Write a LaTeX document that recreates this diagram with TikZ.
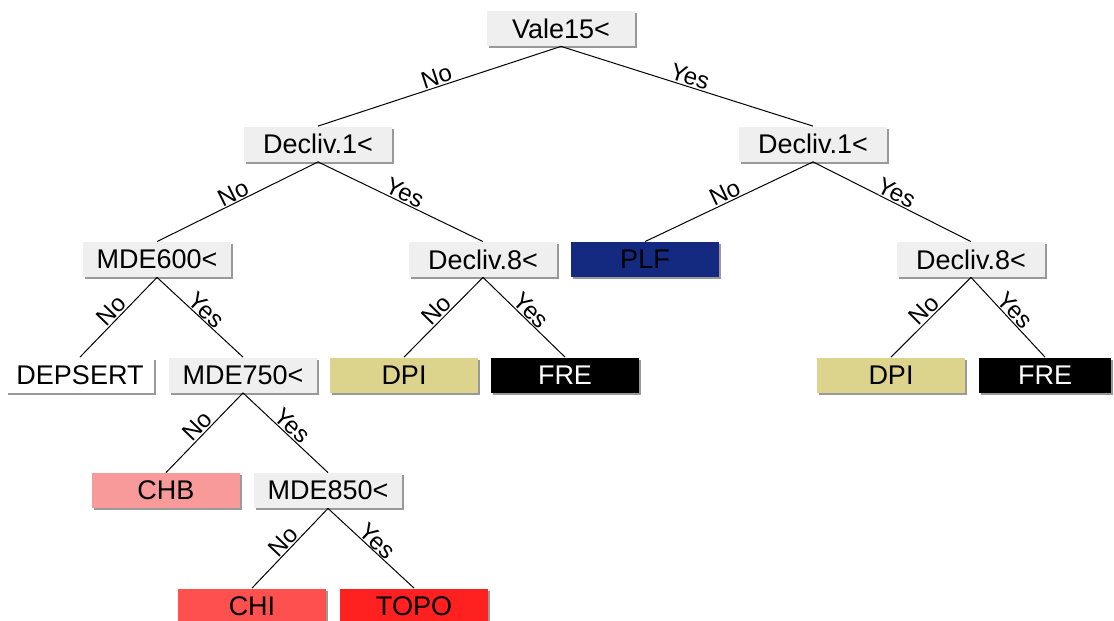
\documentclass[tikz,border=0pt]{standalone}
\usepackage{fontspec}
\setmainfont{Liberation Sans}
\usepackage{tikz}
\usetikzlibrary{shadows, positioning}
\definecolor{splitgray}{HTML}{EFEFEF}
\definecolor{dpicol}{HTML}{DCD48C}
\definecolor{plfcol}{HTML}{132A80}
\definecolor{chbcol}{HTML}{F99A9A}
\definecolor{chicol}{HTML}{FF5050}
\definecolor{topocol}{HTML}{FF2020}
\tikzset{
	box/.style={
		rectangle, 
		minimum width=74pt, 
		minimum height=17.5pt, 
		inner sep=0pt,
		text centered, 
		draw=none, 
		drop shadow={shadow xshift=1pt, shadow yshift=-1pt, fill=black!40, opacity=1},
		font=\fontsize{13.5}{15}\selectfont
	},
	split/.style={box, fill=splitgray},
	leaf/.style={box, fill=#1},
	edge/.style={line width=0.5pt, black},
	answer/.style={sloped, above, midway, inner sep=0.5pt, font=\fontsize{12}{13}\selectfont}
}

\begin{document}
\begin{tikzpicture}[node distance=57.75pt]
				\useasboundingbox (0,0) rectangle (557pt,-310.5pt);
				\node (root) [split] at (280.5pt,-14.25pt) {Vale15<};
				
				\node (declivL) [split, below of=root, xshift=-121.5pt] {Decliv.1<};
				\node (declivR) [split, below of=root, xshift=126pt] {Decliv.1<};
				
				\node (mde600) [split, below of=declivL, xshift=-80.5pt] {MDE600<};
				\node (declivLL) [split, below of=declivL, xshift=82.5pt] {Decliv.8<};
				\node (plf) [leaf=plfcol, below of=declivR, xshift=-84pt] {PLF};
				\node (declivRR) [split, below of=declivR, xshift=79pt] {Decliv.8<};
				
				\node (depsert) [leaf=white, below of=mde600, xshift=-38.5pt] {DEPSERT};
				\node (mde750) [split, below of=mde600, xshift=43pt] {MDE750<};
				\node (dpiL) [leaf=dpicol, below of=declivLL, xshift=-39.5pt] {DPI};
				\node (freL) [leaf=black, text=white, below of=declivLL, xshift=41pt] {FRE};
				\node (dpiR) [leaf=dpicol, below of=declivRR, xshift=-40pt] {DPI};
				\node (freR) [leaf=black, text=white, minimum width=66pt, below of=declivRR, xshift=37pt] {FRE};
				
				\node (chb) [leaf=chbcol, below of=mde750, xshift=-38.5pt] {CHB};
				\node (mde850) [split, below of=mde750, xshift=42.5pt] {MDE850<};
				
				\node (chi) [leaf=chicol, below of=mde850, xshift=-38pt] {CHI};
				\node (topo) [leaf=topocol, below of=mde850, xshift=43pt] {TOPO};
				
				\draw [edge] (root.south) -- node[answer] {No} (declivL.north);
				\draw [edge] (root.south) -- node[answer] {Yes} (declivR.north);
				\draw [edge] (declivL.south) -- node[answer] {No} (mde600.north);
				\draw [edge] (declivL.south) -- node[answer] {Yes} (declivLL.north);
				\draw [edge] (declivR.south) -- node[answer] {No} (plf.north);
				\draw [edge] (declivR.south) -- node[answer] {Yes} (declivRR.north);
				\draw [edge] (mde600.south) -- node[answer] {No} (depsert.north);
				\draw [edge] (mde600.south) -- node[answer] {Yes} (mde750.north);
				\draw [edge] (declivLL.south) -- node[answer] {No} (dpiL.north);
				\draw [edge] (declivLL.south) -- node[answer] {Yes} (freL.north);
				\draw [edge] (declivRR.south) -- node[answer] {No} (dpiR.north);
				\draw [edge] (declivRR.south) -- node[answer] {Yes} (freR.north);
				\draw [edge] (mde750.south) -- node[answer] {No} (chb.north);
				\draw [edge] (mde750.south) -- node[answer] {Yes} (mde850.north);
				\draw [edge] (mde850.south) -- node[answer] {No} (chi.north);
				\draw [edge] (mde850.south) -- node[answer] {Yes} (topo.north);
			\end{tikzpicture}
\end{document}
